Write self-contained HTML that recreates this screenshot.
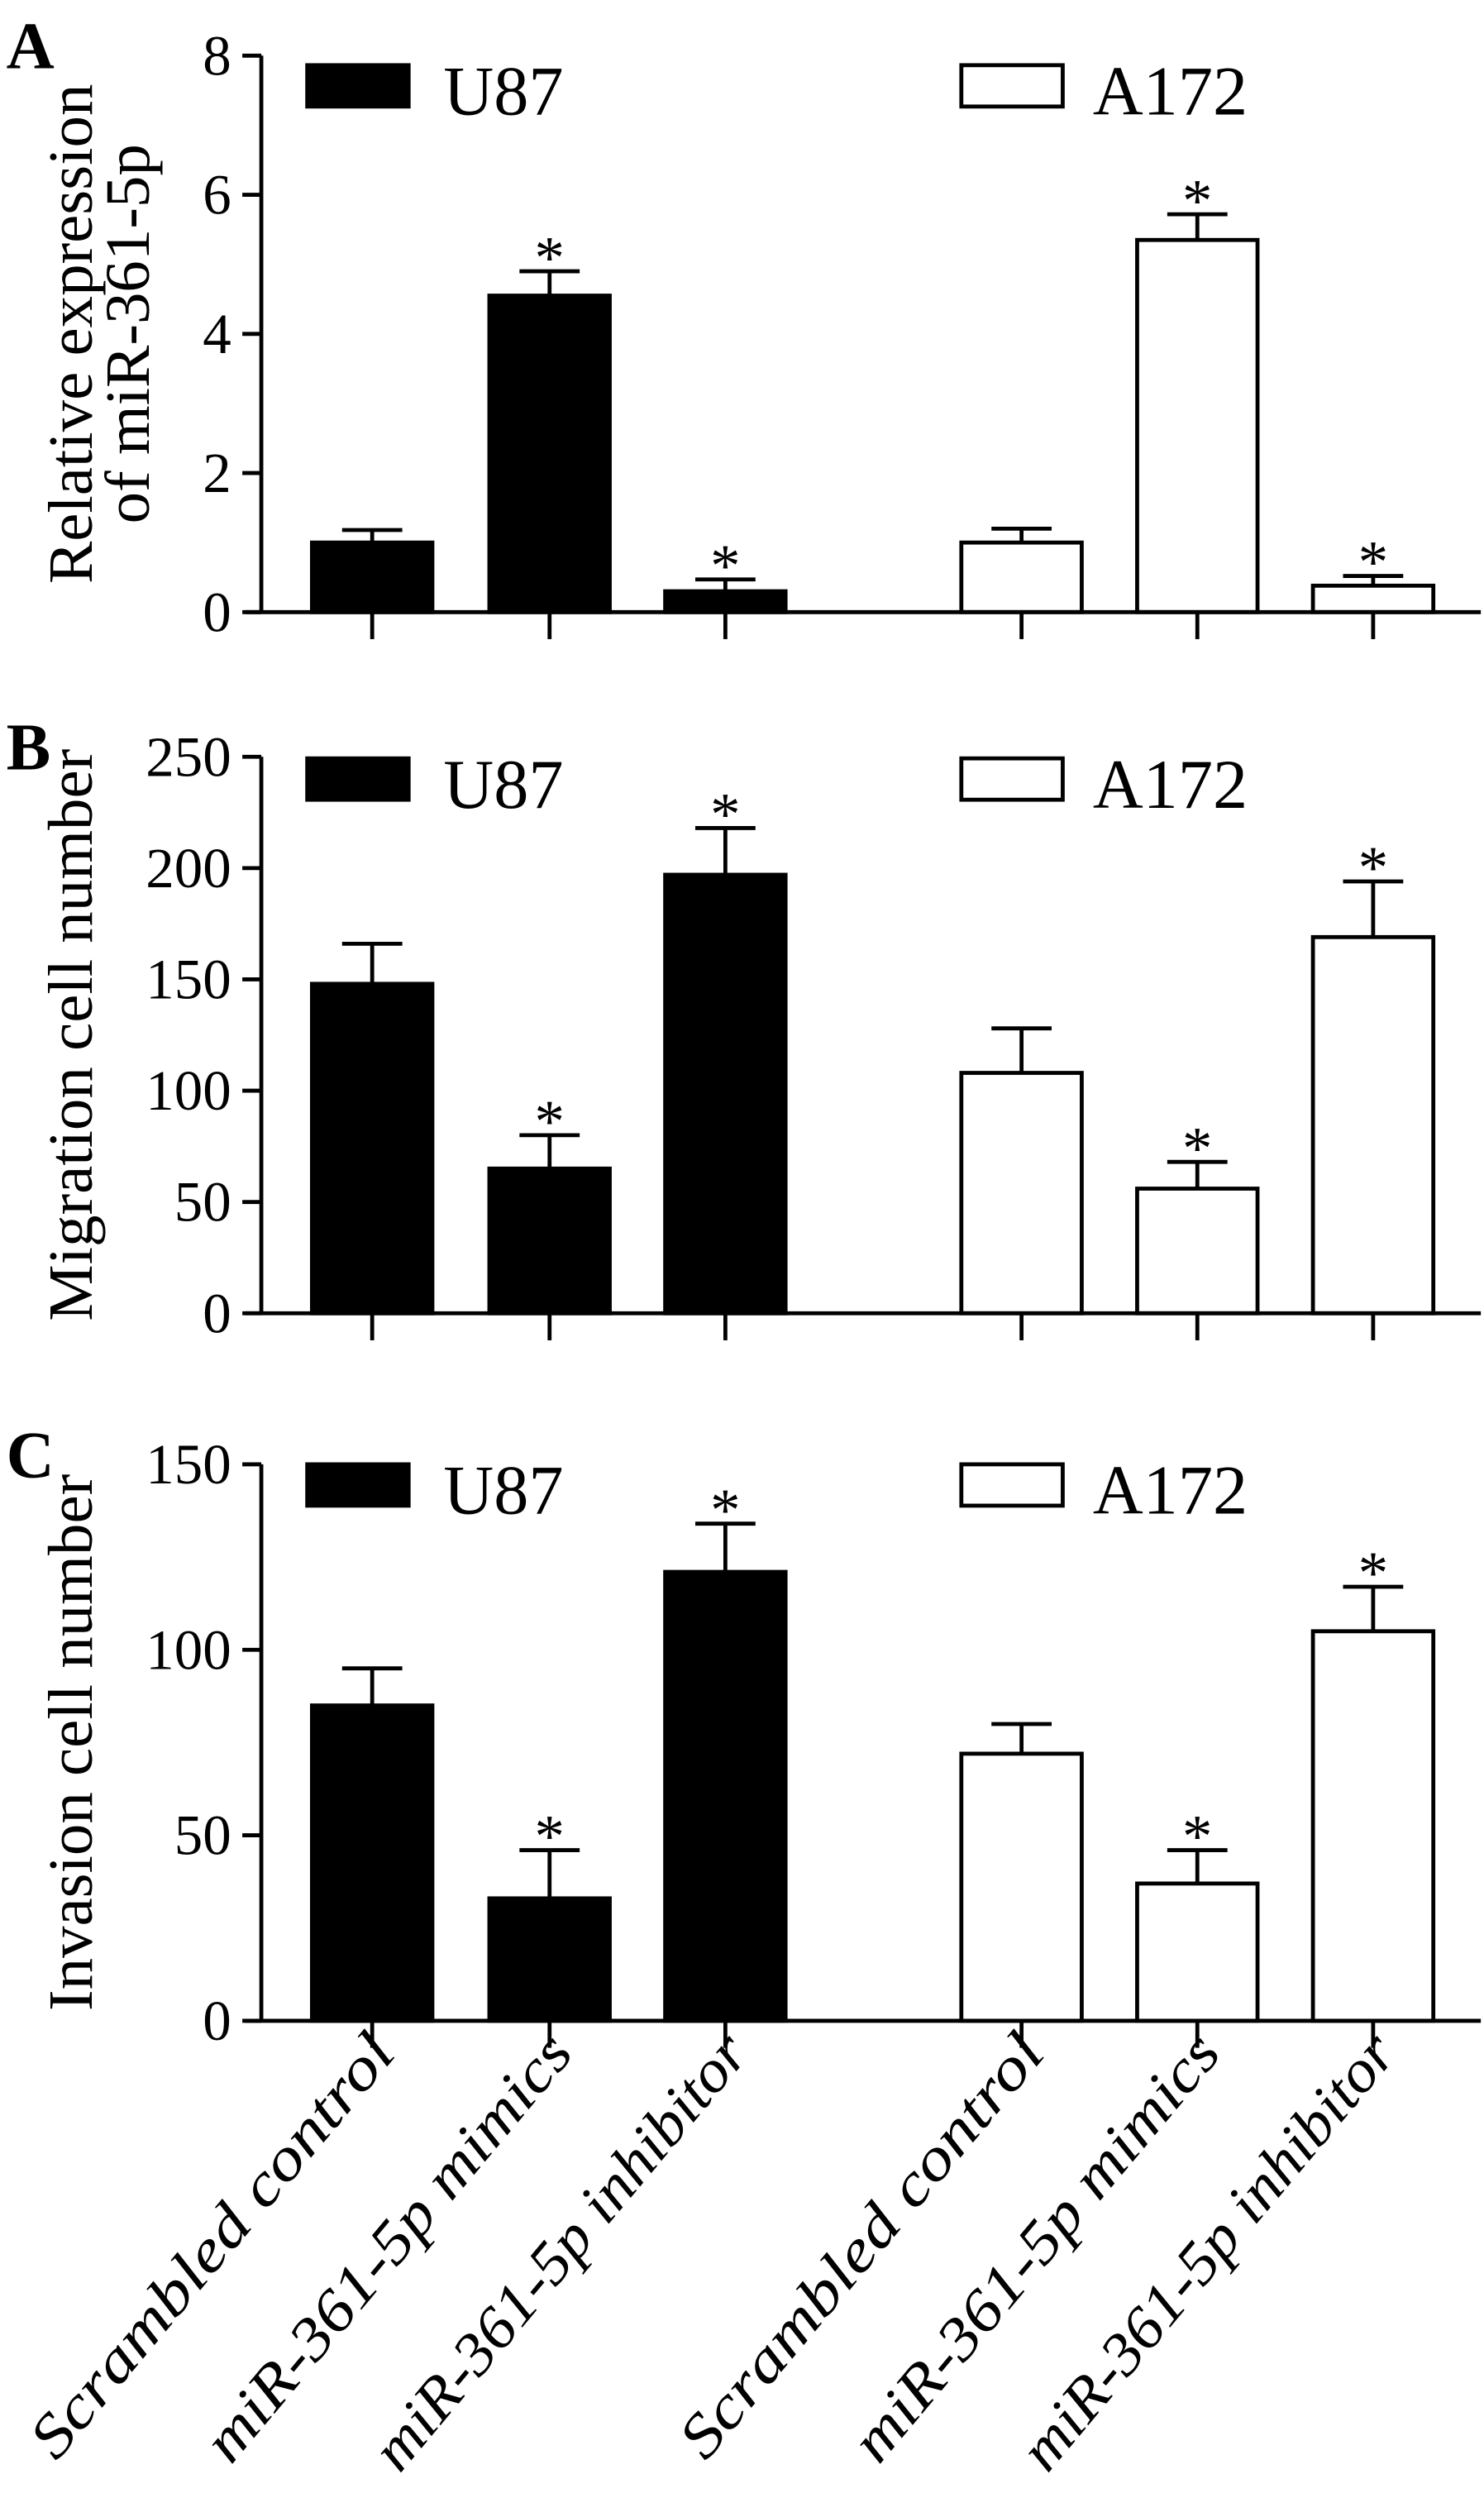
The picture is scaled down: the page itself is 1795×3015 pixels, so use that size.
<!DOCTYPE html>
<html><head><meta charset="utf-8"><style>
html,body{margin:0;padding:0;background:#fff;}
svg{display:block;}
text{font-family:"Liberation Serif",serif;fill:#000;}
</style></head><body>
<svg id="chart" width="1795" height="3015" viewBox="0 0 937 1568" preserveAspectRatio="none" xmlns="http://www.w3.org/2000/svg"></svg>
<script>
const categories = ["Scrambled control","miR-361-5p mimics","miR-361-5p inhibitor","Scrambled control","miR-361-5p mimics","miR-361-5p inhibitor"];
const seriesNames = ["U87","A172"];
const aValues = [1.0, 4.55, 0.3, 1.0, 5.35, 0.38];
const aErrors = [0.18, 0.35, 0.17, 0.2, 0.37, 0.14];
const bValues = [148, 65, 197, 108, 56, 169];
const bErrors = [18, 15, 21, 20, 12, 25];
const cValues = [85, 33, 121, 72, 37, 105];
const cErrors = [10, 13, 13, 8, 9, 12];
const aStars = [false, true, true, false, true, true];
const bStars = [false, true, true, false, true, true];
const cStars = [false, true, true, false, true, true];
const aTicks = [0, 2, 4, 6, 8];
const bTicks = [0, 50, 100, 150, 200, 250];
const cTicks = [0, 50, 100, 150];

const NS = "http://www.w3.org/2000/svg";
const svg = document.getElementById('chart');
function mk(tag, attrs, parent) {
  const e = document.createElementNS(NS, tag);
  for (const k in attrs) e.setAttribute(k, attrs[k]);
  (parent || svg).appendChild(e);
  return e;
}
const catX = [235, 347, 458, 645, 756, 867];
const barW = 76;

function panel(letter, top, zero, maxV, ticks, values, errors, stars, titleLines, legendY) {
  const g = mk('g', {});
  
  
  const y = v => zero - (v / maxV) * (zero - top);
  const lt = mk('text', {x: 4, y: top + 8, 'font-size': 42, 'font-weight': 'bold'}, g);
  lt.textContent = letter;
  
  
  const ya = mk('line', {x1: 165, y1: top, x2: 165, y2: zero, stroke: '#000', 'stroke-width': 2.5}, g);
  
  
  ticks.forEach(t => {
    const tk = mk('line', {x1: 153, y1: y(t), x2: 165, y2: y(t), stroke: '#000', 'stroke-width': 2.5}, g);
    
    
    const tl = mk('text', {x: 146, y: y(t) + 12, 'font-size': 36, 'text-anchor': 'end'}, g);
    tl.textContent = t;
    
    
  });
  const cy = (top + zero) / 2;
  titleLines.forEach((s, i) => {
    const xx = titleLines.length === 2 ? 58 + i * 36 : 58;
    const tt = mk('text', {x: xx, y: cy, 'font-size': 40, 'text-anchor': 'middle', transform: `rotate(-90 ${xx} ${cy})`}, g);
    tt.textContent = s;
    
    
  });
  values.forEach((v, i) => {
    const cx = catX[i];
    const white = i >= 3;
    const bar = mk('rect', {x: cx - barW / 2, y: y(v), width: barW, height: zero - y(v), fill: white ? '#fff' : '#000', stroke: '#000', 'stroke-width': 2.5}, g);
    
    
    const et = y(v + errors[i]);
    const el = mk('line', {x1: cx, y1: y(v), x2: cx, y2: et, stroke: '#000', 'stroke-width': 2.5}, g);
    
    
    const ec = mk('line', {x1: cx - 19, y1: et, x2: cx + 19, y2: et, stroke: '#000', 'stroke-width': 2.5}, g);
    
    
    if (stars[i]) {
      const st = mk('text', {x: cx, y: et + 4, 'font-size': 38, 'text-anchor': 'middle'}, g);
      st.textContent = '*';
      
      
    }
    const xt = mk('line', {x1: cx, y1: zero, x2: cx, y2: zero + 17, stroke: '#000', 'stroke-width': 2.5}, g);
    
    
  });
  const xa = mk('line', {x1: 155, y1: zero, x2: 935, y2: zero, stroke: '#000', 'stroke-width': 2.5}, g);
  
  
  const l1 = mk('rect', {x: 194, y: legendY, width: 64, height: 26, fill: '#000', stroke: '#000', 'stroke-width': 2.5}, g);
  
  
  const t1 = mk('text', {x: 280, y: legendY + 31, 'font-size': 44}, g);
  t1.textContent = seriesNames[0];
  
  
  const l2 = mk('rect', {x: 607, y: legendY, width: 64, height: 26, fill: '#fff', stroke: '#000', 'stroke-width': 2.5}, g);
  
  
  const t2 = mk('text', {x: 690, y: legendY + 31, 'font-size': 44}, g);
  t2.textContent = seriesNames[1];
  
  
}

panel('A', 35, 385, 8, aTicks, aValues, aErrors, aStars, ['Relative expression', 'of miR-361-5p'], 41);
panel('B', 476, 826, 250, bTicks, bValues, bErrors, bStars, ['Migration cell number'], 477);
panel('C', 921, 1271, 150, cTicks, cValues, cErrors, cStars, ['Invasion cell number'], 921);

const labelLen = [335, 338, 345];
categories.forEach((c, i) => {
  const x = catX[i] + 16, yy = 1292;
  const t = mk('text', {x: x, y: yy, 'font-size': 38, 'font-style': 'italic', 'text-anchor': 'end', transform: `rotate(-50 ${x} ${yy})`});
  t.textContent = c;
  
  
  t.setAttribute('textLength', labelLen[i % 3]);
  t.setAttribute('lengthAdjust', 'spacingAndGlyphs');
});
</script>
</body></html>
